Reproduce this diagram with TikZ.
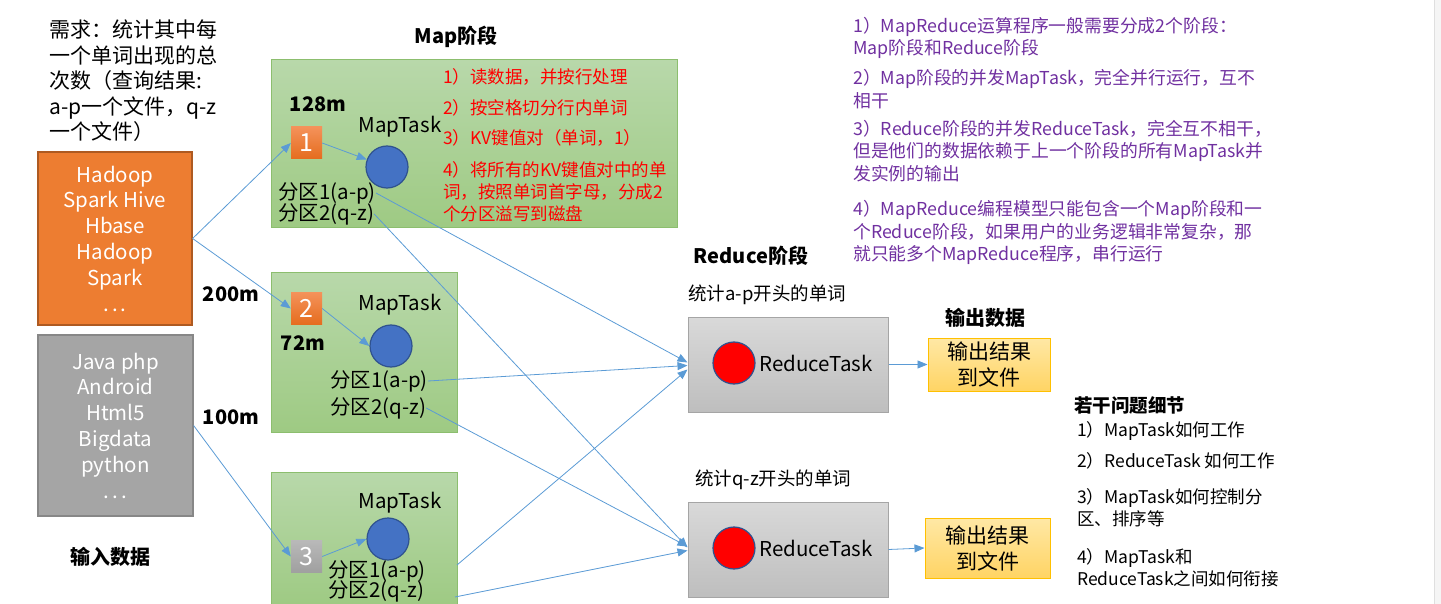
\documentclass[tikz,border=0pt]{standalone}
\usepackage{fontspec}
\setmainfont{Noto Sans CJK SC}
\usetikzlibrary{positioning,arrows.meta}

\definecolor{mapgreenT}{RGB}{184,216,170}
\definecolor{mapgreenB}{RGB}{158,202,131}
\definecolor{mapgreenD}{RGB}{140,190,110}
\definecolor{hadooporange}{RGB}{237,125,49}
\definecolor{orangeD}{RGB}{174,90,33}
\definecolor{orangeT}{RGB}{244,146,90}
\definecolor{orangeB}{RGB}{229,108,30}
\definecolor{datagray}{RGB}{165,165,165}
\definecolor{grayD}{RGB}{135,135,135}
\definecolor{reduceT}{RGB}{217,217,217}
\definecolor{reduceB}{RGB}{190,190,190}
\definecolor{outT}{RGB}{255,232,165}
\definecolor{outB}{RGB}{255,212,100}
\definecolor{outD}{RGB}{255,192,0}
\definecolor{taskblue}{RGB}{68,114,196}
\definecolor{taskblueD}{RGB}{47,82,143}
\definecolor{flowblue}{RGB}{91,155,213}
\definecolor{notepurple}{RGB}{112,48,160}

\begin{document}
\begin{tikzpicture}[x=1pt, y=-1pt,
    mapbox/.style={rectangle, draw=mapgreenD, top color=mapgreenT, bottom color=mapgreenB, line width=1pt},
    inbox/.style={rectangle, line width=1.2pt, text=white, align=center, font=\fontsize{20.5}{25.8}\selectfont},
    splitsq/.style={rectangle, minimum width=31, minimum height=32, text=white, inner sep=0pt, font=\fontsize{25}{25}\selectfont},
    task/.style={circle, minimum size=42, inner sep=0pt, line width=1.2pt},
    lbl/.style={inner sep=0pt, font=\fontsize{20.5}{21}\selectfont},
    size/.style={inner sep=0pt, font=\fontsize{20}{21}\selectfont\bfseries},
    note/.style={inner sep=0pt, anchor=west, align=left},
    flow/.style={-{Triangle[length=10pt,width=8pt]}, flowblue, line width=0.8pt}]
    \useasboundingbox (0,0) rectangle (1441,604);
    \fill[gray!8] (1434,0) rectangle (1441,604);
    \draw[gray!25] (1434,0) -- (1434,604);

    %% Input data
    \node[note, font=\fontsize{21}{25.5}\selectfont] (need) at (49,81) {需求：统计其中每\\一个单词出现的总\\次数（查询结果:\\a-p一个文件，q-z\\一个文件）};
    \node[inbox, fill=hadooporange, draw=orangeD, minimum width=154, minimum height=173] (in1) at (115,238.5) {Hadoop\\Spark Hive\\Hbase\\Hadoop\\Spark\\.\hspace{3pt}.\hspace{3pt}.};
    \node[inbox, fill=datagray, draw=grayD, minimum width=155, minimum height=181] (in2) at (115.5,425.5) {Java php\\Android\\Html5\\Bigdata\\python\\.\hspace{3pt}.\hspace{3pt}.};
    \node[size] (s200) at (231,294) {200m};
    \node[size] (s100) at (231,417) {100m};
    \node[size] (inlbl) at (110,557) {输入数据};

    %% Map stage
    \node[size] (maplbl) at (456,37) {Map阶段};
    \node[mapbox, minimum width=406, minimum height=168] (map1) at (474,144) {};
    \node[mapbox, minimum width=186, minimum height=159] (map2) at (364,352.5) {};
    \node[mapbox, minimum width=186, minimum height=134] (map3) at (364,539) {};

    \node[size] (s128) at (318,104) {128m};
    \node[size] (s72) at (303,343) {72m};

    \node[splitsq, top color=orangeT, bottom color=orangeB] (sq1) at (306.5,143) {1};
    \node[splitsq, top color=orangeT, bottom color=orangeB] (sq2) at (306.5,308.5) {2};
    \node[splitsq, top color=gray!55, bottom color=gray!75] (sq3) at (306.5,556.5) {3};

    \node[task, fill=taskblue, draw=taskblueD] (c1) at (387,167) {};
    \node[task, fill=taskblue, draw=taskblueD] (c2) at (391,346) {};
    \node[task, fill=taskblue, draw=taskblueD] (c3) at (388,539) {};

    \node[lbl] (mt1) at (400,127) {MapTask};
    \node[lbl] (mt2) at (400,305) {MapTask};
    \node[lbl] (mt3) at (400,503) {MapTask};

    \node[lbl, anchor=west] (p11) at (278,193) {分区1(a-p)};
    \node[lbl, anchor=west] (p12) at (278,214) {分区2(q-z)};
    \node[lbl, anchor=west] (p21) at (330,381) {分区1(a-p)};
    \node[lbl, anchor=west] (p22) at (330,408) {分区2(q-z)};
    \node[lbl, anchor=west] (p31) at (328,571) {分区1(a-p)};
    \node[lbl, anchor=west] (p32) at (328,591) {分区2(q-z)};
    \coordinate (p31out) at (457,565);
    \coordinate (p32out) at (455,597);

    %% Map steps
    \node[note, text=red, font=\fontsize{17.5}{22}\selectfont] (step1) at (443,77) {1）读数据，并按行处理};
    \node[note, text=red, font=\fontsize{17.5}{22}\selectfont] (step2) at (443,108) {2）按空格切分行内单词};
    \node[note, text=red, font=\fontsize{17.5}{22}\selectfont] (step3) at (443,138) {3）KV键值对（单词，1）};
    \node[note, text=red, font=\fontsize{17.5}{22}\selectfont] (step4) at (443,192) {4）将所有的KV键值对中的单\\词，按照单词首字母，分成2\\个分区溢写到磁盘};

    %% Reduce stage
    \node[size] (redlbl) at (751,256) {Reduce阶段};
    \node[lbl, anchor=west, font=\fontsize{18.5}{20}\selectfont] (ap) at (688,295) {统计a-p开头的单词};
    \node[lbl, anchor=west, font=\fontsize{18.5}{20}\selectfont] (qz) at (695,480) {统计q-z开头的单词};
    \node[rectangle, draw=datagray, top color=reduceT, bottom color=reduceB, line width=1pt, minimum width=200, minimum height=95] (r1) at (788,364.5) {};
    \node[rectangle, draw=datagray, top color=reduceT, bottom color=reduceB, line width=1pt, minimum width=200, minimum height=95] (r2) at (788,549.5) {};
    \node[task, fill=red, draw=taskblueD] (rc1) at (734,363) {};
    \node[task, fill=red, draw=taskblueD] (rc2) at (734,548) {};
    \node[lbl] (rt1) at (816,363) {ReduceTask};
    \node[lbl] (rt2) at (816,548) {ReduceTask};

    %% Output
    \node[size] (outlbl) at (985,318) {输出数据};
    \node[rectangle, draw=outD, top color=outT, bottom color=outB, line width=1pt, minimum width=122, minimum height=53, align=center, inner sep=0pt, font=\fontsize{21}{26}\selectfont] (o1) at (989,364.5) {输出结果\\到文件};
    \node[rectangle, draw=outD, top color=outT, bottom color=outB, line width=1pt, minimum width=125, minimum height=60, align=center, inner sep=0pt, font=\fontsize{21}{26}\selectfont] (o2) at (987.5,548) {输出结果\\到文件};

    %% Connectors
    \draw[flow] (in1.east) -- (sq1.west);
    \draw[flow] (in1.east) -- (sq2.west);
    \draw[flow] (in2.east) -- (sq3.west);
    \draw[flow] (sq1.east) -- (c1);
    \draw[flow] (sq2.east) -- (c2.west);
    \draw[flow] (sq3.east) -- (c3.west);

    \draw[flow] (p11.east) -- ([yshift=2]r1.west);
    \draw[flow] (p21.east) -- ([yshift=-1]r1.west);
    \draw[flow] (p31out) -- ([yshift=-5]r1.west);
    \draw[flow] (p12.east) -- ([yshift=2]r2.west);
    \draw[flow] (p22.east) -- ([yshift=3]r2.west);
    \draw[flow] (p32out) -- ([yshift=-1]r2.west);

    \draw[flow] (r1.east) -- (o1.west);
    \draw[flow] (r2.east) -- (o2.west);

    %% Notes
    \node[note, text=notepurple, font=\fontsize{17.8}{22.5}\selectfont] (n1) at (853,38) {1）MapReduce运算程序一般需要分成2个阶段：\\Map阶段和Reduce阶段};
    \node[note, text=notepurple, font=\fontsize{17.8}{22.5}\selectfont] (n2) at (853,89) {2）Map阶段的并发MapTask，完全并行运行，互不\\相干};
    \node[note, text=notepurple, font=\fontsize{17.8}{22.5}\selectfont] (n3) at (853,151) {3）Reduce阶段的并发ReduceTask，完全互不相干，\\但是他们的数据依赖于上一个阶段的所有MapTask并\\发实例的输出};
    \node[note, text=notepurple, font=\fontsize{17.8}{22.5}\selectfont] (n4) at (853,232.5) {4）MapReduce编程模型只能包含一个Map阶段和一\\个Reduce阶段，如果用户的业务逻辑非常复杂，那\\就只能多个MapReduce程序，串行运行};

    \node[note, font=\fontsize{18.5}{20}\selectfont\bfseries] (qlbl) at (1074,405) {若干问题细节};
    \node[note, font=\fontsize{17.5}{22}\selectfont] (q1) at (1077,431) {1）MapTask如何工作};
    \node[note, font=\fontsize{17.5}{22}\selectfont] (q2) at (1077,461) {2）ReduceTask 如何工作};
    \node[note, font=\fontsize{17.5}{22}\selectfont] (q3) at (1077,508) {3）MapTask如何控制分\\区、排序等};
    \node[note, font=\fontsize{17.5}{22}\selectfont] (q4) at (1077,567.5) {4）MapTask和\\ReduceTask之间如何衔接};
\end{tikzpicture}
\end{document}
